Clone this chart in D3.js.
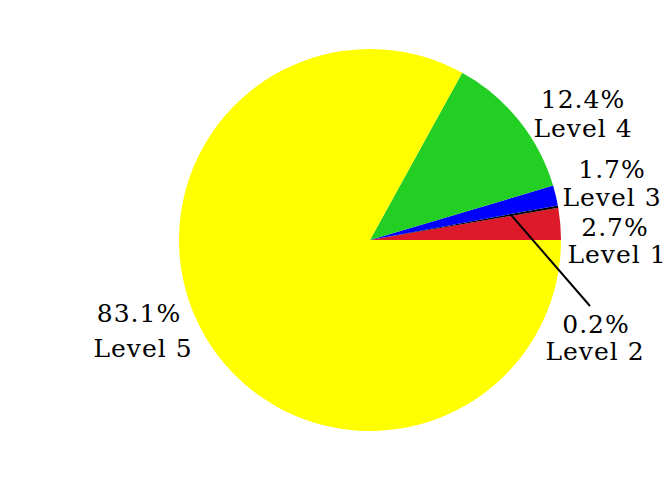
<html>
<head>
<script src="https://d3js.org/d3.v7.min.js"></script>
<style>
	body { margin: 0; background: white; }
	svg { display: block; }
	text { font-family: "DejaVu Serif", serif; font-size: 25px; letter-spacing: 1px; fill: #000; }
</style>
</head>
<body>
<svg width="664" height="479"></svg>
<script>
// data, in the order the slices run (counterclockwise from 3 o'clock)
var levels = ["Level 1", "Level 2", "Level 3", "Level 4", "Level 5"];
var shares = [2.7, 0.2, 1.7, 12.4, 83.1];
var colours = ["#dc1a2a", "#000000", "#0000ff", "#23cf23", "#ffff00"];

// where each label block sits (x, y of first line, anchor)
var labelPos = [
	{x: 615, y: 236, lx: 617, ly: 263},
	{x: 596, y: 333, lx: 595, ly: 360},
	{x: 612, y: 178, lx: 612, ly: 206},
	{x: 583, y: 108, lx: 583, ly: 137},
	{x: 139, y: 322, lx: 143, ly: 357}
];

var cx = 370, cy = 240, r = 191;

var svg = d3.select("svg");
var g = svg.append("g").attr("transform", "translate(" + cx + "," + cy + ")");

var data = levels.map(function(d, i) { return {level: d, share: shares[i], colour: colours[i], i: i}; });

// d3 angles go clockwise from 12 o'clock; run ours counterclockwise from 3 o'clock
var pie = d3.pie().sort(null).value(function(d) { return d.share; })
	.startAngle(Math.PI / 2).endAngle(Math.PI / 2 - 2 * Math.PI);

var arc = d3.arc().innerRadius(0).outerRadius(r);
var arcs = pie(data);

g.selectAll("path").data(arcs).enter().append("path")
	.attr("d", arc)
	.attr("fill", function(d) { return d.data.colour; });

// pointer line for the tiny Level 2 slice
var inner = d3.arc().innerRadius(r * 0.75).outerRadius(r * 0.75);
var p = inner.centroid(arcs[1]);
g.append("line")
	.attr("x1", p[0]).attr("y1", p[1])
	.attr("x2", 590 - cx).attr("y2", 306 - cy)
	.attr("stroke", "#000").attr("stroke-width", 2);

var fmt = d3.format(".1f");
arcs.forEach(function(d, i) {
	var lp = labelPos[i];
	svg.append("text").attr("x", lp.x).attr("y", lp.y).attr("text-anchor", "middle")
		.text(fmt(d.data.share) + "%");
	svg.append("text").attr("x", lp.lx).attr("y", lp.ly).attr("text-anchor", "middle")
		.text(d.data.level);
});
</script>
</body>
</html>
